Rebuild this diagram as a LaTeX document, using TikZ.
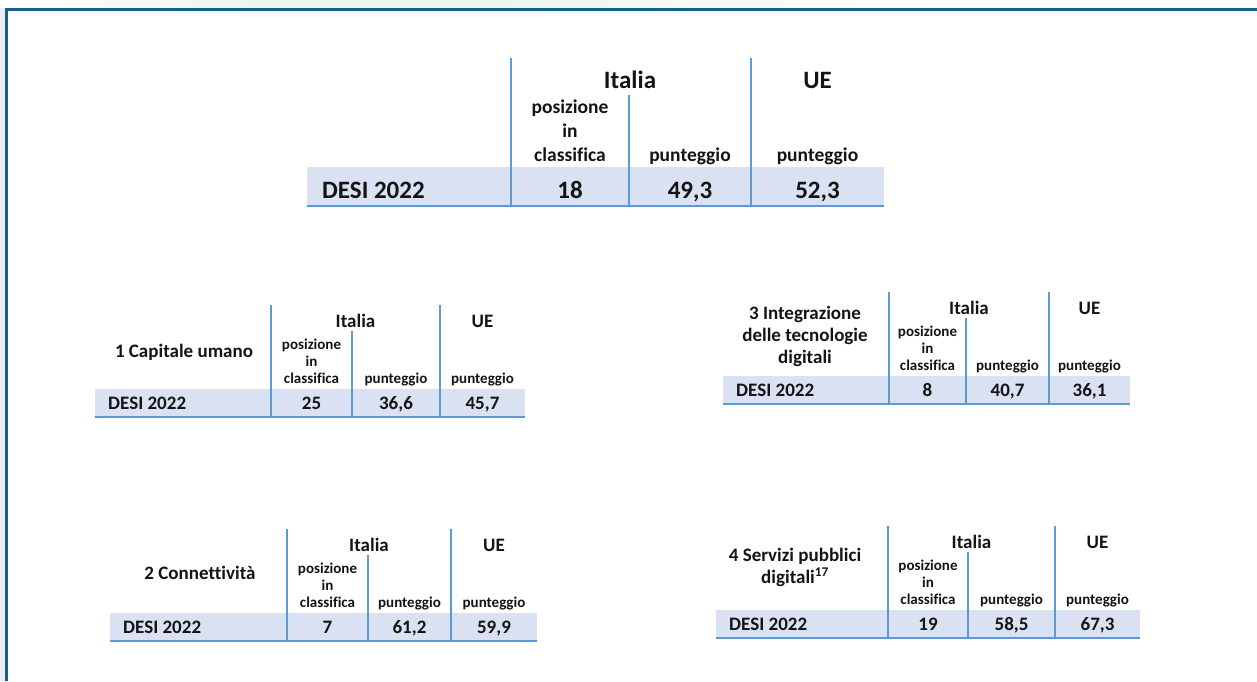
\documentclass[tikz,border=0pt]{standalone}
\usepackage{fontspec}
\setmainfont{Carlito}[Ligatures=NoCommon]
\usetikzlibrary{fadings}
\definecolor{framecol}{HTML}{1C5F86}
\definecolor{linecol}{HTML}{5B9BD5}
\definecolor{shadecol}{HTML}{D9E1F2}
\definecolor{txtcol}{HTML}{141414}
\definecolor{stripcol}{HTML}{E8EEF7}
\definecolor{greencol}{HTML}{EDF6EE}
\tikzset{
  gridline/.style={draw=linecol, line width=2.4pt},
  rowline/.style={draw=linecol, line width=2.6pt},
  mbig/.style={font=\fontsize{25}{30}\selectfont\bfseries, text=txtcol, inner sep=0pt, anchor=base},
  msmall/.style={font=\fontsize{19.5}{23}\selectfont\bfseries, text=txtcol, inner sep=0pt, anchor=base},
  sbig/.style={font=\fontsize{19}{22}\selectfont\bfseries, text=txtcol, inner sep=0pt, anchor=base},
  ssmall/.style={font=\fontsize{15}{18}\selectfont\bfseries, text=txtcol, inner sep=0pt, anchor=base},
}
% #1 name, #2 shade left, #3 shade right, #4 #5 #6 column lines, #7 bottom y
\newcommand\smalltab[7]{%
  \fill[shadecol] (#2,#7-28) rectangle (#3,#7);
  \draw[rowline] (#2,#7) -- (#3,#7);
  \draw[gridline] (#4,#7-112) -- (#4,#7);
  \draw[gridline] (#5,#7-86) -- (#5,#7);
  \draw[gridline] (#6,#7-112) -- (#6,#7);
  \node[sbig] (#1it) at ({(#4+#6)/2},#7-90) {Italia};
  \node[sbig] (#1ue) at ({(#6+#3)/2},#7-90) {UE};
  \node[ssmall] (#1pos) at ({(#4+#5)/2},#7-68) {posizione};
  \node[ssmall] (#1in) at ({(#4+#5)/2},#7-51) {in};
  \node[ssmall] (#1cl) at ({(#4+#5)/2},#7-34) {classifica};
  \node[ssmall] (#1pa) at ({(#5+#6)/2},#7-34) {punteggio};
  \node[ssmall] (#1pb) at ({(#6+#3)/2},#7-34) {punteggio};
  \node[sbig, anchor=base west] (#1desi) at (#2+13,#7-8) {DESI 2022};
  \node[sbig] (#1va) at ({(#4+#5)/2},#7-8) {\vrank};
  \node[sbig] (#1vb) at ({(#5+#6)/2},#7-8) {\vital};
  \node[sbig] (#1vc) at ({(#6+#3)/2},#7-8) {\vue};
}
\begin{document}
\begin{tikzpicture}[x=1pt,y=-1pt]
\useasboundingbox (0,0) rectangle (1257,681);
\fill[white] (0,0) rectangle (1257,681);
% frame
\fill[stripcol] (0,8) rectangle (5,681);
\shade[left color=white, right color=greencol, middle color=greencol] (10,0) rectangle (500,8);
\shade[left color=greencol, right color=white] (500,0) rectangle (950,8);
\draw[framecol, line width=3pt] (6.5,681) -- (6.5,9.5) -- (1257,9.5);

% main table
\fill[shadecol] (307,167) rectangle (884,206);
\draw[rowline] (307,206) -- (884,206);
\draw[gridline] (511,58) -- (511,206);
\draw[gridline] (629,95) -- (629,206);
\draw[gridline] (751,58) -- (751,206);
\node[mbig] (mit) at (630,88) {Italia};
\node[mbig] (mue) at (817.5,88) {UE};
\node[msmall] (mpos) at (570,113) {posizione};
\node[msmall] (min) at (570,137) {in};
\node[msmall] (mcl) at (570,161) {classifica};
\node[msmall] (mpa) at (690,161) {punteggio};
\node[msmall] (mpb) at (817.5,161) {punteggio};
\node[mbig, anchor=base west] (mdesi) at (322,198) {DESI 2022};
\node[mbig] (mva) at (570,198) {18};
\node[mbig] (mvb) at (690,198) {49,3};
\node[mbig] (mvc) at (817.5,198) {52,3};

% table 1
\def\vrank{25}\def\vital{36,6}\def\vue{45,7}
\smalltab{a}{95}{525}{271}{352}{440}{417}
\node[sbig] (atitle) at (184,357) {1 Capitale umano};

% table 3
\def\vrank{8}\def\vital{40,7}\def\vue{36,1}
\smalltab{c}{723}{1130}{889}{966}{1049}{404}
\node[sbig] (ctitle1) at (805,319) {3 Integrazione};
\node[sbig] (ctitle2) at (805,341) {delle tecnologie};
\node[sbig] (ctitle3) at (805,363) {digitali};

% table 2
\def\vrank{7}\def\vital{61,2}\def\vue{59,9}
\smalltab{b}{110}{537}{287}{368}{451}{641}
\node[sbig] (btitle) at (200,579) {2 Connettività};

% table 4
\def\vrank{19}\def\vital{58,5}\def\vue{67,3}
\smalltab{d}{716}{1140}{888}{968}{1055}{638}
\node[sbig] (dtitle1) at (795,561) {4 Servizi pubblici};
\node[sbig] (dtitle2) at (795,583) {digitali\textsuperscript{17}};
\end{tikzpicture}
\end{document}
